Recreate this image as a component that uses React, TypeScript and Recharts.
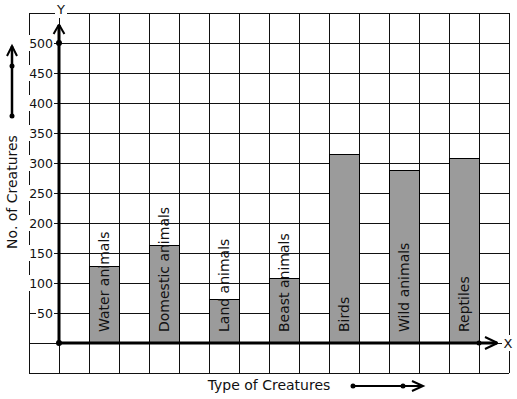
import {
  ComposedChart, Bar, XAxis, YAxis, CartesianGrid, ReferenceLine, ReferenceDot, LabelList,
} from 'recharts';

const creatures = ['Water animals', 'Domestic animals', 'Land animals', 'Beast animals', 'Birds', 'Wild animals', 'Reptiles'];
const counts = [127, 162, 72, 108, 315, 288, 307];
const yTicks = [-50, 0, 50, 100, 150, 200, 250, 300, 350, 400, 450, 500, 550];
const gridTicks = [0, 1, 2, 3, 4, 5, 6, 7, 8, 9, 10, 11, 12, 13, 14, 15, 16];

// 16 grid columns; each creature takes every other column starting at the 3rd
const slots: { slot: string; pos: number; name: string; count: number | null }[] =
  gridTicks.slice(0, 16).map((_, i) => ({ slot: `c${i}`, pos: i, name: '', count: null }));
creatures.forEach((c, i) => {
  const k = 2 + 2 * i;
  slots[k] = { slot: `c${k}`, pos: k, name: c, count: counts[i] };
});

const FONT = '"DejaVu Sans", sans-serif';

const YTick = (props: any) => {
  const { x, y, payload } = props;
  const v = payload.value;
  if (v <= 0 || v > 500) return <g />;
  const w = String(v).length * 8 + 2;
  return (
    <g>
      <rect x={x + 25 - w} y={y - 8} width={w} height={16} fill="#fff" />
      <text x={x + 24} y={y + 4.5} textAnchor="end" fontSize={12.5} fontFamily={FONT} fill="#111">{v}</text>
    </g>
  );
};

const BarLabel = (props: any) => {
  const { x, y, width, height, value } = props;
  if (!value) return null;
  const bx = x + width / 2 + 5;
  const by = y + height - 11;
  return (
    <text x={bx} y={by} transform={`rotate(-90 ${bx} ${by})`} fontSize={14} fontFamily={FONT} fill="#111">
      {value}
    </text>
  );
};

export default function App() {
  return (
    <div style={{ position: 'absolute', left: 0, top: 0, width: 517, height: 399, background: '#fff' }}>
      <ComposedChart width={517} height={399} data={slots} barCategoryGap={0}
        margin={{ top: 13, right: 8, left: 28, bottom: 26 }}>
        <XAxis xAxisId="cat" dataKey="slot" hide />
        <XAxis xAxisId="grid" dataKey="pos" type="number" domain={[0, 16]} allowDataOverflow ticks={gridTicks} interval={0} hide />
        <YAxis domain={[-50, 550]} allowDataOverflow ticks={yTicks} interval={0} width={1} axisLine={false}
          tickLine={false} tickSize={0} tickMargin={0} tick={<YTick />} />
        <CartesianGrid xAxisId="grid" stroke="#111" strokeWidth={1} shapeRendering="crispEdges" />
        <Bar xAxisId="cat" dataKey="count" fill="#9b9b9b" stroke="#000" strokeWidth={1}
          shapeRendering="crispEdges" isAnimationActive={false}>
          <LabelList dataKey="name" content={<BarLabel />} />
        </Bar>
        {/* axes with arrow heads */}
        <ReferenceLine xAxisId="grid" segment={[{ x: 1, y: 0 }, { x: 1, y: 530 }]} stroke="#000" strokeWidth={3} />
        <ReferenceLine xAxisId="grid" segment={[{ x: 0.82, y: 515 }, { x: 1, y: 531 }]} stroke="#000" strokeWidth={2} />
        <ReferenceLine xAxisId="grid" segment={[{ x: 1.18, y: 515 }, { x: 1, y: 531 }]} stroke="#000" strokeWidth={2} />
        <ReferenceLine xAxisId="grid" segment={[{ x: 1, y: 0 }, { x: 15.6, y: 0 }]} stroke="#000" strokeWidth={3} />
        <ReferenceLine xAxisId="grid" segment={[{ x: 15.2, y: 10 }, { x: 15.62, y: 0 }]} stroke="#000" strokeWidth={2} />
        <ReferenceLine xAxisId="grid" segment={[{ x: 15.2, y: -10 }, { x: 15.62, y: 0 }]} stroke="#000" strokeWidth={2} />
        <ReferenceDot xAxisId="grid" x={1} y={0} r={3} fill="#000" stroke="none" />
        <ReferenceDot xAxisId="grid" x={1} y={500} r={3} fill="#000" stroke="none" />
        <ReferenceDot xAxisId="grid" x={15} y={0} r={2.5} fill="#000" stroke="none" />
      </ComposedChart>
      <svg width={517} height={399} style={{ position: 'absolute', left: 0, top: 0, pointerEvents: 'none' }}
        fontFamily={FONT} fill="#111">
        <rect x={55} y={4} width={12} height={14} fill="#fff" />
        <text x={61} y={14} textAnchor="middle" fontSize={13}>Y</text>
        <rect x={502} y={335} width={12} height={16} fill="#fff" />
        <text x={508} y={347.5} textAnchor="middle" fontSize={13}>X</text>
        <text x={0} y={0} transform="translate(17 192) rotate(-90)" textAnchor="middle" fontSize={14}>No. of Creatures</text>
        <line x1={12} y1={116} x2={12} y2={46} stroke="#000" strokeWidth={2.5} />
        <polyline points="7,56 12,46 17,56" fill="none" stroke="#000" strokeWidth={2} />
        <circle cx={12} cy={66} r={2.5} fill="#000" />
        <circle cx={12} cy={116} r={2.5} fill="#000" />
        <text x={269} y={390} textAnchor="middle" fontSize={14}>Type of Creatures</text>
        <line x1={353} y1={386} x2={422} y2={386} stroke="#000" strokeWidth={2} />
        <polyline points="412,381 423,386 412,391" fill="none" stroke="#000" strokeWidth={2} />
        <circle cx={353} cy={386} r={2.5} fill="#000" />
        <circle cx={403} cy={386} r={2.5} fill="#000" />
      </svg>
    </div>
  );
}
